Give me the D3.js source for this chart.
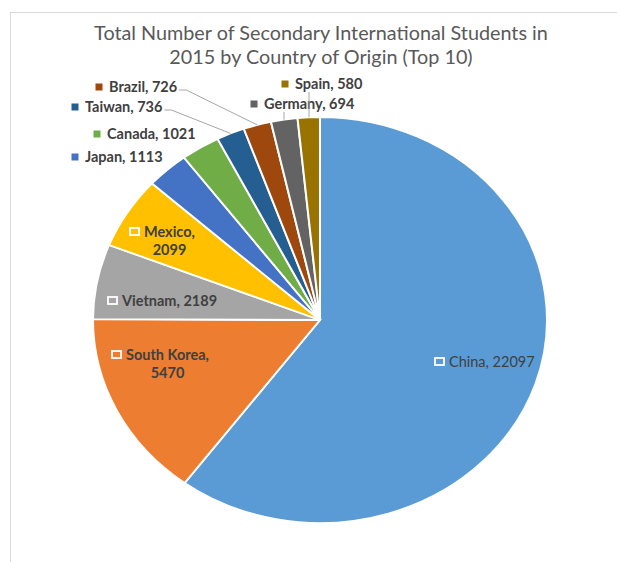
<!DOCTYPE html>
<html>
<head>
<meta charset="utf-8">
<script src="https://cdn.jsdelivr.net/npm/d3@7"></script>
<style>
  body { margin: 0; background: #fff; }
  svg text { font-family: Lato, "Open Sans", sans-serif; }
</style>
</head>
<body>
<svg id="chart" width="617" height="562"></svg>
<script>
// data
const countries = ["China", "South Korea", "Vietnam", "Mexico", "Japan", "Canada", "Taiwan", "Brazil", "Germany", "Spain"];
const students = [22097, 5470, 2189, 2099, 1113, 1021, 736, 726, 694, 580];
const colors = ["#5B9BD5", "#ED7D31", "#A5A5A5", "#FFC000", "#4472C4", "#70AD47", "#255E91", "#9E480E", "#636363", "#997300"];
const titleLines = ["Total Number of Secondary International Students in", "2015 by Country of Origin (Top 10)"];

// label layout (x,y relative to svg), inside = white-outlined key
const labelLayout = {
  "China":       { x: 439, y: 362, inside: true },
  "South Korea": { x: 116, y: 355, inside: true, wrap: true },
  "Vietnam":     { x: 112, y: 301, inside: true },
  "Mexico":      { x: 134, y: 232, inside: true, wrap: true },
  "Japan":       { x: 75,  y: 157 },
  "Canada":      { x: 97,  y: 134 },
  "Taiwan":      { x: 75,  y: 107, leader: "side" },
  "Brazil":      { x: 99,  y: 87,  leader: "side" },
  "Germany":     { x: 254, y: 104, leader: "down", lx: 284 },
  "Spain":       { x: 285, y: 84,  leader: "down", lx: 309 }
};

const width = 617, height = 562;
const cx = 320, cy = 320, ry = 203, rx = 227;

const svg = d3.select("#chart");

// chart frame
svg.append("rect")
  .attr("x", 10.5).attr("y", 12.5)
  .attr("width", width).attr("height", height)
  .attr("fill", "none")
  .attr("stroke", "#d9d9d9");

// title
svg.append("g").selectAll("text")
  .data(titleLines)
  .enter().append("text")
  .attr("x", 321)
  .attr("y", (d, i) => 40 + i * 24)
  .attr("text-anchor", "middle")
  .attr("fill", "#595959")
  .style("font-size", "19.8px")
  .text(d => d);

const rows = countries.map((c, i) => ({ name: c, value: students[i], color: colors[i] }));

const pie = d3.pie().sort(null).value(d => d.value);
const arcs = pie(rows);
const arc = d3.arc().innerRadius(0).outerRadius(ry);

// the picture is stretched sideways, so the pie is an ellipse
const g = svg.append("g")
  .attr("transform", `translate(${cx},${cy}) scale(${rx / ry},1)`);

g.selectAll("path")
  .data(arcs)
  .enter().append("path")
  .attr("d", arc)
  .attr("fill", d => d.data.color)
  .attr("stroke", "#fff")
  .attr("stroke-width", 1.8);

// point on the rim at the slice middle, in svg coords
function rimPoint(d) {
  const a = (d.startAngle + d.endAngle) / 2;
  return [cx + rx * Math.sin(a), cy - ry * Math.cos(a)];
}

const labels = svg.append("g");
const textColor = "#404040";

arcs.forEach(d => {
  const name = d.data.name;
  const L = labelLayout[name];
  const lab = labels.append("g");

  if (L.inside) {
    lab.append("rect")
      .attr("x", L.x - 4).attr("y", L.y - 4)
      .attr("width", 9).attr("height", 7)
      .attr("fill", d.data.color)
      .attr("stroke", "#fff")
      .attr("stroke-width", 1.8);
  } else {
    lab.append("rect")
      .attr("x", L.x - 3.5).attr("y", L.y - 3.5)
      .attr("width", 7).attr("height", 7)
      .attr("fill", d.data.color);
  }

  const t = lab.append("text")
    .attr("fill", textColor)
    .style("font-size", "14.5px")
    .style("font-weight", name === "China" ? "normal" : "bold");

  if (L.wrap) {
    t.append("tspan").attr("x", L.x + 10).attr("y", L.y + 5).text(name + ",");
    const w = t.node().getComputedTextLength();
    t.append("tspan")
      .attr("x", L.x + 10 + w / 2).attr("y", L.y + 23)
      .attr("text-anchor", "middle")
      .text(d.data.value);
  } else {
    t.attr("x", L.x + 10).attr("y", L.y + 5)
      .text(`${name}, ${d.data.value}`);
  }

  if (L.leader) {
    const p = rimPoint(d);
    let pts;
    if (L.leader === "side") {
      const tx = L.x + 10 + t.node().getComputedTextLength() + 2;
      pts = [[tx, L.y + 3], [tx + 7, L.y + 3], p];
    } else {
      pts = [[L.lx, L.y + 8], [L.lx, p[1]]];
    }
    labels.append("path")
      .attr("d", d3.line()(pts))
      .attr("fill", "none")
      .attr("stroke", "#a6a6a6")
      .attr("stroke-width", 1);
  }
});
</script>
</body>
</html>
